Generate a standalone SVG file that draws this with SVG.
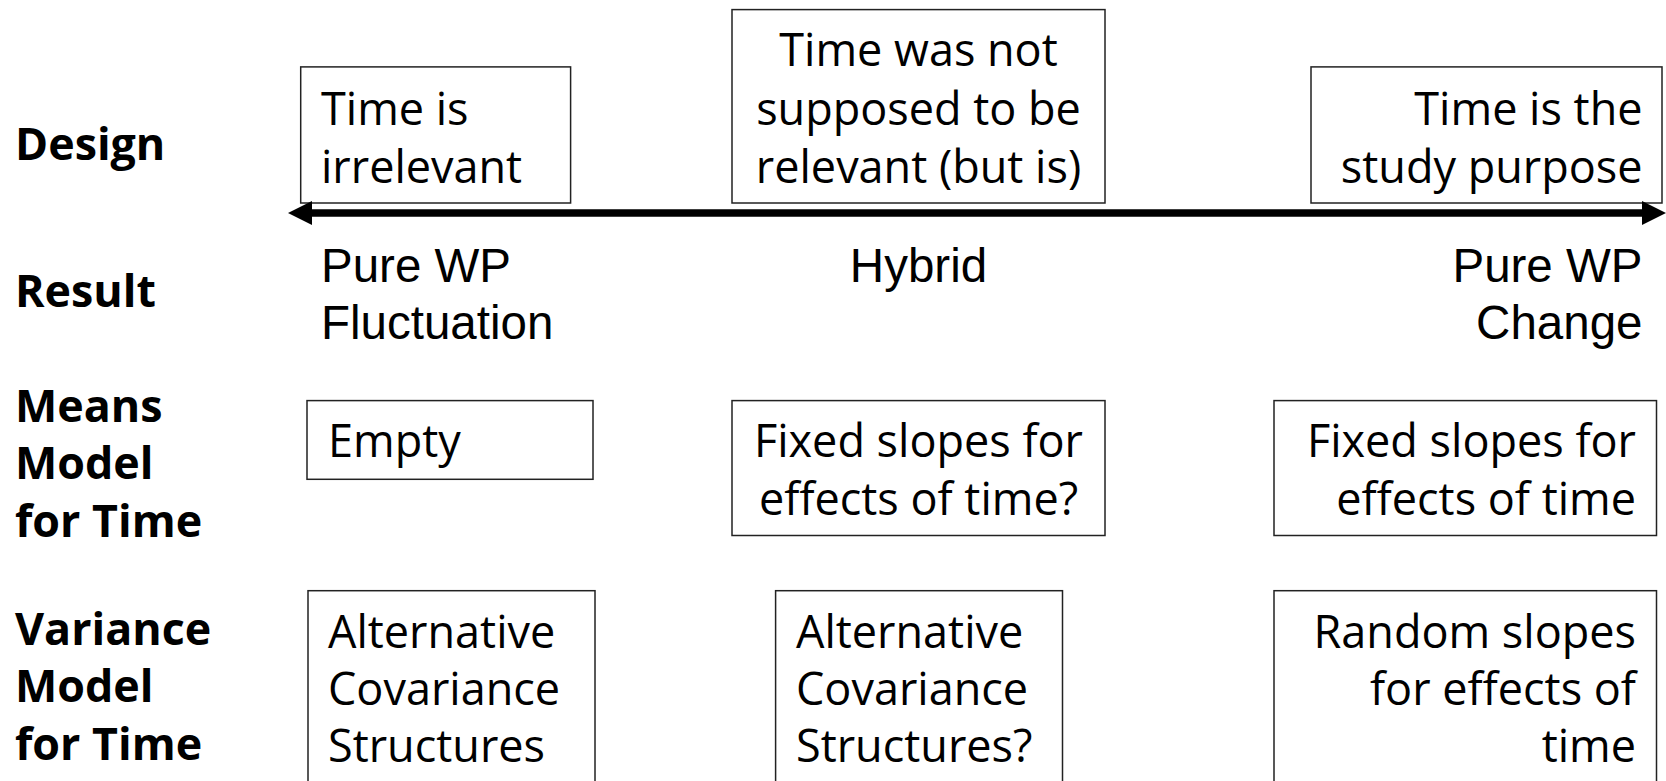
<svg xmlns="http://www.w3.org/2000/svg" width="1666" height="781" viewBox="0 0 1666 781">
<defs>
<style>
.box{fill:#fff;stroke:#222;stroke-width:1.5}
.t{font-family:"Open Sans","Noto Sans",sans-serif;font-size:45px;fill:#000}
.b{font-family:"Open Sans","Noto Sans",sans-serif;font-size:44.8px;font-weight:bold;fill:#000}
.a{font-family:"Liberation Sans",Arial,sans-serif;font-size:47.5px;fill:#000}
.axis{stroke:#000;stroke-width:7.5;fill:none}
</style>
<marker id="head" viewBox="0 0 24 24" refX="0" refY="12" markerWidth="24" markerHeight="24" markerUnits="userSpaceOnUse" orient="auto-start-reverse">
<path d="M0,0 L24,12 L0,24 z" fill="#000"/>
</marker>
</defs>
<rect width="1666" height="781" fill="#fff"/>

<g id="row-labels">
<text class="b" x="15" y="160">Design</text>
<text class="b" x="15" y="307">Result</text>
<text class="b" x="15" y="422">Means</text>
<text class="b" x="15" y="479">Model</text>
<text class="b" x="15" y="537">for Time</text>
<text class="b" x="15" y="645">Variance</text>
<text class="b" x="15" y="702">Model</text>
<text class="b" x="15" y="760">for Time</text>
</g>

<g id="design-irrelevant">
<rect class="box" x="300.7" y="66.9" width="269.9" height="136.1"/>
<text class="t" x="321" y="124.5">Time is</text>
<text class="t" x="321" y="182.5">irrelevant</text>
</g>

<g id="design-not-supposed">
<rect class="box" x="732" y="9.6" width="373" height="193.4"/>
<text class="t" x="918.5" y="66" text-anchor="middle">Time was not</text>
<text class="t" x="918.5" y="124.5" text-anchor="middle">supposed to be</text>
<text class="t" x="918.5" y="182.5" text-anchor="middle">relevant (but is)</text>
</g>

<g id="design-purpose">
<rect class="box" x="1311" y="66.9" width="351" height="136.1"/>
<text class="t" x="1642.5" y="124.5" text-anchor="end">Time is the</text>
<text class="t" x="1642.5" y="182.5" text-anchor="end">study purpose</text>
</g>

<g id="connectors">
<path class="axis" d="M312,213 L1642,213" marker-start="url(#head)" marker-end="url(#head)"/>
</g>

<g id="result-fluctuation">
<text class="a" x="321" y="282">Pure WP</text>
<text class="a" x="321" y="339">Fluctuation</text>
</g>

<g id="result-hybrid">
<text class="a" x="918.5" y="282" text-anchor="middle">Hybrid</text>
</g>

<g id="result-change">
<text class="a" x="1642.5" y="282" text-anchor="end">Pure WP</text>
<text class="a" x="1642.5" y="339" text-anchor="end">Change</text>
</g>

<g id="means-empty">
<rect class="box" x="307" y="400.6" width="286" height="78.7"/>
<text class="t" x="328" y="457">Empty</text>
</g>

<g id="means-fixed-q">
<rect class="box" x="732" y="400.6" width="373" height="134.9"/>
<text class="t" x="918.5" y="457" text-anchor="middle">Fixed slopes for</text>
<text class="t" x="918.5" y="514.5" text-anchor="middle">effects of time?</text>
</g>

<g id="means-fixed">
<rect class="box" x="1274" y="400.6" width="382.5" height="134.9"/>
<text class="t" x="1636" y="457" text-anchor="end">Fixed slopes for</text>
<text class="t" x="1636" y="514.5" text-anchor="end">effects of time</text>
</g>

<g id="variance-alt">
<rect class="box" x="308" y="590.7" width="287" height="210"/>
<text class="t" x="328" y="648">Alternative</text>
<text class="t" x="328" y="705">Covariance</text>
<text class="t" x="328" y="762">Structures</text>
</g>

<g id="variance-alt-q">
<rect class="box" x="775.6" y="590.7" width="286.9" height="210"/>
<text class="t" x="796" y="648">Alternative</text>
<text class="t" x="796" y="705">Covariance</text>
<text class="t" x="796" y="762">Structures?</text>
</g>

<g id="variance-random">
<rect class="box" x="1274" y="590.7" width="382.5" height="210"/>
<text class="t" x="1636" y="648" text-anchor="end">Random slopes</text>
<text class="t" x="1636" y="705" text-anchor="end">for effects of</text>
<text class="t" x="1636" y="762" text-anchor="end">time</text>
</g>
</svg>
